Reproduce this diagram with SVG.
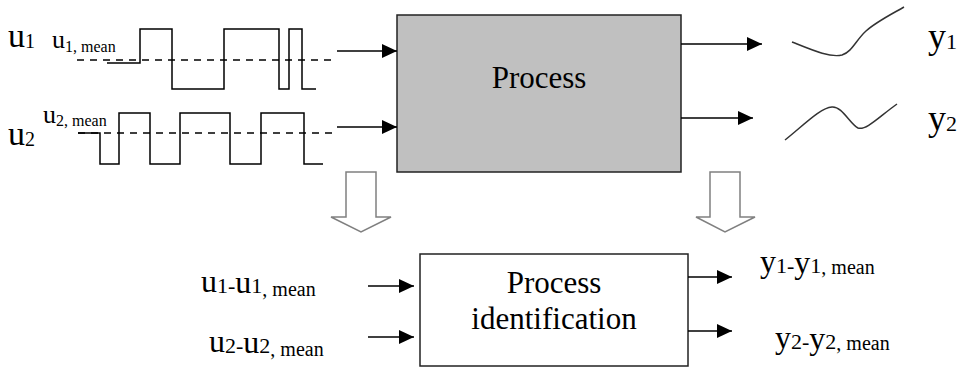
<svg xmlns="http://www.w3.org/2000/svg" width="963" height="368" viewBox="0 0 963 368">
<defs>
<marker id="ah" markerUnits="userSpaceOnUse" markerWidth="15" markerHeight="14" refX="15" refY="7" orient="auto"><path d="M0,0 L15,7 L0,14 z" fill="#000"/></marker>
<style>
.sig{fill:none;stroke:#000;stroke-width:1.5}
.dash{fill:none;stroke:#000;stroke-width:1.5;stroke-dasharray:7 6}
.conn{fill:none;stroke:#000;stroke-width:1.6;marker-end:url(#ah)}
.curve{fill:none;stroke:#333;stroke-width:1.5}
.box{stroke:#222;stroke-width:1.5}
.hollow{fill:#fff;stroke:#808080;stroke-width:1.5}
.t{font-family:"Times New Roman","Liberation Serif","DejaVu Serif",serif;fill:#000}
</style>
</defs>
<rect width="963" height="368" fill="#fff"/>
<g id="signals">
<path class="dash" d="M77,60 H333"/>
<path class="sig" d="M107,63 H140 V29 H172 V89 H224 V29 H279 V89 H289 V29 H302 V89 H316"/>
<path class="dash" d="M78,133 H333"/>
<path class="sig" d="M78,133 H100 V164 H119 V113 H150 V164 H180 V113 H230 V164 H261 V113 H304 V164 H323"/>
<path class="curve" d="M792,42 C812,50 830,58 842,55 C852,52 856,40 866,31 C876,22 890,15 904,7"/>
<path class="curve" d="M785,140 C805,124 820,108 832,107 C842,106 850,124 858,128 C866,131 880,116 897,104"/>
</g>
<g id="labels">
<text class="t" x="8" y="47" font-size="34">u<tspan font-size="20" dy="1">1</tspan></text>
<text class="t" x="52" y="48" font-size="26">u<tspan font-size="16" dy="4">1, mean</tspan></text>
<text class="t" x="8" y="145" font-size="34">u<tspan font-size="20" dy="1">2</tspan></text>
<text class="t" x="43" y="123" font-size="26">u<tspan font-size="16" dy="3">2, mean</tspan></text>
<text class="t" x="928" y="48" font-size="36">y<tspan font-size="22" dy="1">1</tspan></text>
<text class="t" x="928" y="130" font-size="36">y<tspan font-size="22" dy="1">2</tspan></text>
<text class="t" x="201" y="292" font-size="32">u<tspan font-size="22" dy="1">1-</tspan><tspan>u</tspan><tspan font-size="22">1</tspan><tspan font-size="20" dy="3">, mean</tspan></text>
<text class="t" x="209" y="352" font-size="32">u<tspan font-size="22" dy="1">2-</tspan><tspan>u</tspan><tspan font-size="22">2</tspan><tspan font-size="20" dy="3">, mean</tspan></text>
<text class="t" x="760" y="272" font-size="32">y<tspan font-size="22" dy="1">1-</tspan><tspan>y</tspan><tspan font-size="22">1</tspan><tspan font-size="20" dy="1">, mean</tspan></text>
<text class="t" x="775" y="348" font-size="32">y<tspan font-size="22" dy="1">2-</tspan><tspan>y</tspan><tspan font-size="22">2</tspan><tspan font-size="20" dy="1">, mean</tspan></text>
</g>
<g id="process">
<rect class="box" x="397" y="15" width="284" height="157" fill="#c0c0c0"/>
<text class="t" x="539" y="88" font-size="31" text-anchor="middle">Process</text>
</g>
<g id="identification">
<rect class="box" x="420" y="254" width="268" height="112" fill="#fff"/>
<text class="t" x="554" y="293" font-size="31" text-anchor="middle">Process</text>
<text class="t" x="554" y="329" font-size="31" text-anchor="middle">identification</text>
</g>
<g id="hollow-arrows">
<path class="hollow" d="M346,172 H376 V217 H391 L361,232 L331,217 H346 Z"/>
<path class="hollow" d="M710,172 H740 V217 H755 L725,232 L696,217 H710 Z"/>
</g>
<g id="connectors">
<path class="conn" d="M337,51 H397"/>
<path class="conn" d="M337,127 H397"/>
<path class="conn" d="M681,44 H762"/>
<path class="conn" d="M681,118 H753"/>
<path class="conn" d="M368,286 H414"/>
<path class="conn" d="M368,337 H414"/>
<path class="conn" d="M688,277 H732"/>
<path class="conn" d="M688,331 H732"/>
</g>
</svg>
